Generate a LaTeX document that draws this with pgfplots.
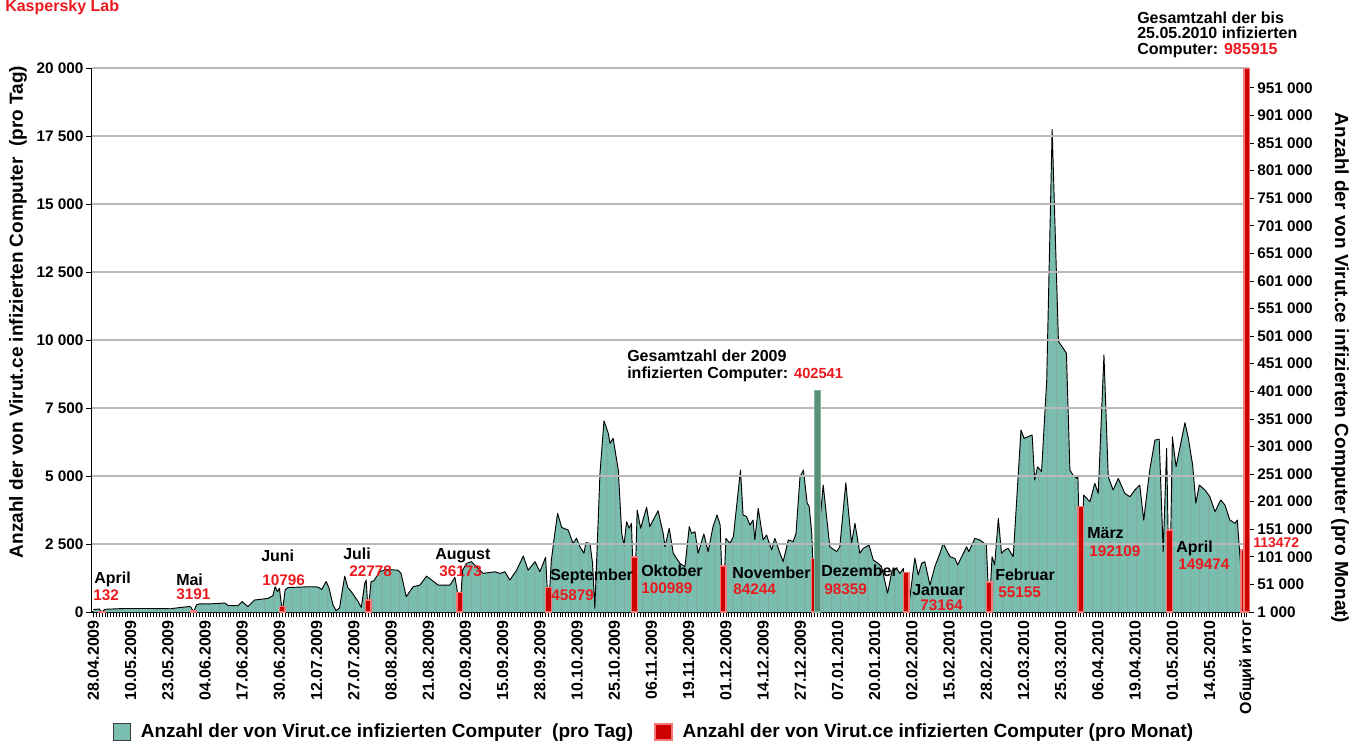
\documentclass[border=0pt]{standalone}
\usepackage{fontspec}
\setmainfont{Liberation Sans}
\usepackage{pgfplots}
\pgfplotsset{compat=1.18}
\usepackage{pgfplotstable}
\usetikzlibrary{patterns.meta}

\definecolor{areateal}{RGB}{122,190,176}
\definecolor{combline}{RGB}{140,140,140}
\definecolor{gridgray}{RGB}{185,185,185}
\definecolor{kred}{RGB}{235,25,30}
\definecolor{barred}{RGB}{205,0,0}
\definecolor{barpink}{RGB}{245,120,120}
\definecolor{bargreen}{RGB}{85,145,118}
\definecolor{bargreenedge}{RGB}{130,180,160}

\newcommand{\lf}{\bfseries\fontsize{12}{14}\selectfont}
\newcommand{\nf}{\bfseries\fontsize{11.5}{14}\selectfont}
\newcommand{\tf}{\bfseries\fontsize{14.25}{16}\selectfont}

% daily values: slot index (days plus one slot per monthly subtotal), infected computers per day
\pgfplotstableread{
slot value
0 90
1 100
2 110
3 0
4 100
11 130
20 130
27 120
30.6 170
33.4 200
34 190
35 0
36 260
37 300
41 300
46 330
47 240
50.5 230
52 380
54 200
56.3 440
61 500
62.7 600
63.5 930
64.3 750
65 870
66 0
67 820
68 900
75.6 930
78.4 920
79.8 830
81.3 1120
82.3 900
83.7 260
84.8 50
86 150
87.8 1320
88.9 900
90.1 750
92.4 400
93.6 170
94.8 1050
95.3 1175
96 0
97 1115
98 1150
100 1480
102 1560
106.4 1540
107.5 1420
109.3 560
111.7 930
114.1 990
116.4 1320
120.5 990
124.6 990
126.3 1275
127 870
128 0
129 1540
130.4 1790
132.1 1850
136.2 1420
140.3 1480
142 1420
143.8 1480
145.5 1175
147.9 1540
150.2 2060
151.9 1540
154.3 1850
156 1480
158 2010
159 0
160 1900
161.3 2950
162.2 3630
163.6 3110
165.9 3010
167.6 2525
168.8 2710
170 2400
171.4 2160
172.1 2550
173.5 2525
174.4 1790
175.2 135
177 5100
178.4 7030
179.9 6570
180.5 6200
181.6 6385
183.4 5220
184.6 2890
185.4 2460
186.3 3320
187.2 3080
188 3260
189 0
190 3750
191.2 3080
193.3 3850
194.4 3140
197.3 3720
199.1 2890
199.7 2400
201.2 3080
202.6 2160
204.9 1790
206.7 1665
208.2 3140
209 2890
210.2 2950
211.3 2160
213.3 2870
214.8 2220
216.5 3140
217.9 3570
219 3200
220 0
221 2710
222.4 2525
223.6 2770
226.1 5220
227 3570
228.2 3510
229.4 3200
230.5 3380
231.1 2650
232.3 3810
234 2650
235.2 2830
237 2280
238.1 2710
239.9 2160
241 1850
242.8 2650
244.5 2590
245.5 2890
246.9 4975
248.1 5220
249.4 4000
250.1 3880
251 2890
252 0
253 0
254 3500
255 4670
257.3 2400
259.7 2220
260.8 2400
262.9 4750
264.9 2525
266.1 3260
267.8 2160
269 2340
271 2460
272.5 1910
274.2 1790
275.4 1665
277.5 690
279.1 1540
280.6 1600
281.8 1420
283 1600
284 0
285 300
287 1985
288.2 1360
289.4 1790
290.5 1850
292.3 990
294 1665
295.8 2160
296.9 2525
299.3 2035
301 1970
302 1730
303.4 2035
305.1 2400
305.9 2220
308 2710
309.7 2650
311.3 2525
312 2500
313 0
314 2035
314.9 1730
316.2 3440
317.3 2160
318.5 2280
319.6 2340
321.4 2035
324.1 6690
325.2 6385
328 6510
328.9 4850
329.9 5340
331.3 5160
333.1 8530
335 17740
337.2 9950
338.9 9690
340 9510
341.2 5220
342.3 5035
343.7 4910
344 5000
345 0
346 4300
348.2 4055
349.9 4730
351.1 4360
353.1 9450
354.6 4975
356.3 4485
358.1 4910
360.4 4360
362.2 4240
363.9 4485
365.6 4670
367 3380
369.1 5220
370.9 6320
372.4 6350
373.8 2220
375 6015
376 0
377 6440
378.3 5340
381.4 6960
382.5 6440
384.1 5400
385.2 4000
386.4 4670
388.4 4485
390.1 4240
391.9 3690
393.9 4120
395.4 3930
397.1 3380
398.9 3260
399.7 3380
401 1500
402 0
403 0
}\daily

% monthly subtotals (secondary axis)
\pgfplotstableread{
slot value
3 132
35 3191
66 10796
96 22778
128 36173
159 45879
189 100989
220 84244
252 98359
284 73164
313 55155
345 192109
376 149474
402 113472
}\monthly

\pgfplotsset{
  common/.style={
    at={(0pt,0pt)}, anchor=south west,
    scale only axis, width=868pt, height=408pt,
    xmin=-0.6, xmax=403.8,
  },
  numfmt/.style={
    scaled y ticks=false, scaled x ticks=false,
    /pgf/number format/fixed,
    /pgf/number format/precision=0,
    /pgf/number format/assume math mode=true,
    /pgf/number format/1000 sep={\ },
  },
}

\begin{document}
\begin{tikzpicture}
\useasboundingbox (-68.775pt,-99pt) rectangle (949.725pt,459pt);

% ---- primary axis: daily values
\begin{axis}[common, numfmt,
  ymin=0, ymax=20000,
  axis lines*=left,
  axis line style={black, line width=1pt},
  xtick={0,13,...,403},
  xticklabels={28.04.2009,10.05.2009,23.05.2009,04.06.2009,17.06.2009,30.06.2009,12.07.2009,27.07.2009,08.08.2009,21.08.2009,02.09.2009,15.09.2009,28.09.2009,10.10.2009,25.10.2009,06.11.2009,19.11.2009,01.12.2009,14.12.2009,27.12.2009,07.01.2010,20.01.2010,02.02.2010,15.02.2010,28.02.2010,12.03.2010,25.03.2010,06.04.2010,19.04.2010,01.05.2010,14.05.2010,Общий итог},
  minor xtick={0,1,...,403},
  ytick={0,2500,...,20000},
  tick align=outside,
  major tick length=4pt, minor tick length=4pt,
  tick style={black, line width=0.5pt},
  xticklabel style={rotate=90, anchor=east, font=\bfseries\fontsize{12}{12}\selectfont, inner sep=2pt},
  yticklabel style={font=\bfseries\fontsize{11.5}{12}\selectfont, inner sep=2pt},
]
\addplot[fill=areateal, draw=none] table[x=slot,y=value]{\daily} \closedcycle;
\addplot[draw=none, pattern={Lines[angle=90,distance=6.44pt,line width=0.5pt]}, pattern color=combline] table[x=slot,y=value]{\daily} \closedcycle;
\addplot[black, line width=0.7pt, line join=round] table[x=slot,y=value]{\daily};
\end{axis}

% ---- horizontal grid lines over the area
\begin{axis}[common, numfmt,
  ymin=0, ymax=20000,
  axis line style={draw=none},
  xtick=\empty,
  ytick={2500,5000,...,20000}, yticklabels={},
  major tick length=0pt,
  ymajorgrids, grid style={gridgray, line width=1pt},
]
\end{axis}

% ---- secondary axis: monthly totals
\begin{axis}[common, numfmt,
  ymin=1000, ymax=986915,
  axis x line=none, axis y line*=right,
  axis line style={barpink, line width=1pt},
  ytick={1000,51000,...,951000},
  tick align=outside, major tick length=4pt,
  tick style={black, line width=0.5pt},
  yticklabel style={font=\bfseries\fontsize{11.5}{12}\selectfont, inner sep=2pt},
  legend style={at={(0.0184,-0.2206)}, anchor=west, draw=none, fill=none,
    legend columns=2, font=\tf, inner sep=0pt, nodes={inner sep=0pt},
    /tikz/every odd column/.append style={column sep=7.5pt},
    /tikz/every even column/.append style={column sep=16pt}},
  legend cell align=left,
]
\addplot[ybar, bar width=2.0, bar shift=0pt, fill=barred, draw=barpink, line width=1pt, forget plot] table[x=slot,y=value]{\monthly};
\addplot[ybar, bar width=2.0, bar shift=0pt, fill=bargreen, draw=bargreenedge, line width=1pt, forget plot] coordinates {(253,402541)};
\addplot[ybar, bar width=2.0, bar shift=0pt, fill=barred, draw=barpink, line width=1pt, forget plot] coordinates {(403,985915)};
\addlegendimage{legend image code/.code={\draw[fill=areateal, draw=black!75, line width=0.8pt] (0pt,-6.2pt) rectangle (12.4pt,6.2pt);}}
\addlegendentry{Anzahl der von Virut.ce infizierten Computer\ \ (pro Tag)}
\addlegendimage{legend image code/.code={\draw[fill=barred, draw=barpink, line width=1.2pt] (0pt,-6.2pt) rectangle (12.4pt,6.2pt);}}
\addlegendentry{Anzahl der von Virut.ce infizierten Computer (pro Monat)}
\end{axis}

% ---- texts, placed in reference pixel coordinates
\begin{scope}[x=0.75pt, y=-0.75pt, shift={(-68.775pt,459pt)}]
\node[anchor=base west, inner sep=0pt, font=\lf, text=kred] at (5,11.5) {Kaspersky Lab};
\node[rotate=90, font=\tf, inner sep=0pt] at (18,312) {Anzahl der von Virut.ce infizierten Computer\ \ (pro Tag)};
\node[rotate=-90, font=\tf, inner sep=0pt] at (1340,368) {Anzahl der von Virut.ce infizierten Computer (pro Monat)};

\node[anchor=base west, inner sep=0pt, font=\lf] at (94,583.5) {April};
\node[anchor=base west, inner sep=0pt, font=\nf, text=kred] at (93,600) {132};
\node[anchor=base west, inner sep=0pt, font=\lf] at (176,585) {Mai};
\node[anchor=base west, inner sep=0pt, font=\nf, text=kred] at (176,599) {3191};
\node[anchor=base west, inner sep=0pt, font=\lf] at (261,561.5) {Juni};
\node[anchor=base west, inner sep=0pt, font=\nf, text=kred] at (262,585.7) {10796};
\node[anchor=base west, inner sep=0pt, font=\lf] at (343,559.5) {Juli};
\node[anchor=base west, inner sep=0pt, font=\nf, text=kred] at (349,576) {22778};
\node[anchor=base west, inner sep=0pt, font=\lf] at (435,559) {August};
\node[anchor=base west, inner sep=0pt, font=\nf, text=kred] at (439,576) {36173};
\node[anchor=base west, inner sep=0pt, font=\lf] at (550,580.5) {September};
\node[anchor=base west, inner sep=0pt, font=\nf, text=kred] at (551,600) {45879};
\node[anchor=base west, inner sep=0pt, font=\lf] at (641,576.7) {Oktober};
\node[anchor=base west, inner sep=0pt, font=\nf, text=kred] at (641,593.3) {100989};
\node[anchor=base west, inner sep=0pt, font=\lf] at (732,578.3) {November};
\node[anchor=base west, inner sep=0pt, font=\nf, text=kred] at (733,594) {84244};
\node[anchor=base west, inner sep=0pt, font=\lf] at (821,576.7) {Dezember};
\node[anchor=base west, inner sep=0pt, font=\nf, text=kred] at (824,594) {98359};
\node[anchor=base west, inner sep=0pt, font=\lf] at (912,595.5) {Januar};
\node[anchor=base west, inner sep=0pt, font=\nf, text=kred] at (920,610) {73164};
\node[anchor=base west, inner sep=0pt, font=\lf] at (995,580) {Februar};
\node[anchor=base west, inner sep=0pt, font=\nf, text=kred] at (998,597.3) {55155};
\node[anchor=base west, inner sep=0pt, font=\lf] at (1087,538.3) {März};
\node[anchor=base west, inner sep=0pt, font=\nf, text=kred] at (1089,556.7) {192109};
\node[anchor=base west, inner sep=0pt, font=\lf] at (1176,552.7) {April};
\node[anchor=base west, inner sep=0pt, font=\nf, text=kred] at (1178,569.3) {149474};
\node[anchor=base west, inner sep=0pt, font=\bfseries\fontsize{10.5}{12}\selectfont, text=kred] at (1253,547.3) {113472};

\node[anchor=base west, inner sep=0pt, font=\lf] at (627,361.7) {Gesamtzahl der 2009};
\node[anchor=base west, inner sep=0pt, font=\lf] at (627,378) {infizierten Computer: {\color{kred}\fontsize{11}{12}\selectfont 402541}};

\node[anchor=base west, inner sep=0pt, font=\lf] at (1137,23.3) {Gesamtzahl der bis};
\node[anchor=base west, inner sep=0pt, font=\lf] at (1137,39) {25.05.2010 infizierten};
\node[anchor=base west, inner sep=0pt, font=\lf] at (1137,55) {Computer: {\color{kred}985915}};
\end{scope}
\end{tikzpicture}
\end{document}
